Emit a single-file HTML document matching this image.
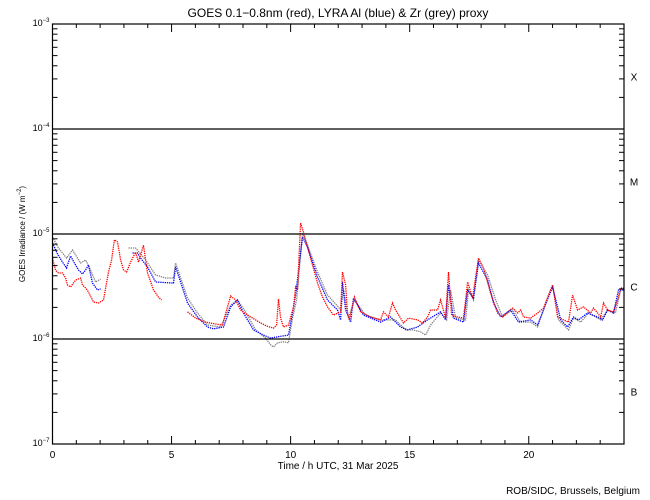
<!DOCTYPE html>
<html><head><meta charset="utf-8"><style>
body{margin:0;background:#fff}
svg{display:block;font-family:"Liberation Sans",sans-serif}
</style></head><body>
<svg id="c" width="650" height="500" viewBox="0 0 650 500">
<rect width="650" height="500" fill="#fff"/>
<g id="series"></g>
<g id="axes"></g>
</svg>
<script>
const hoursRed=[0,.13,.25,.42,.55,.63,.76,.97,1.18,1.26,1.39,1.51,1.72,1.93,2.14,2.35,2.48,2.6,2.73,2.86,2.98,3.11,3.28,3.49,3.61,3.82,3.99,4.24,4.45,4.58,null,5.67,6.01,6.43,6.85,7.14,7.31,7.48,7.69,7.9,8.19,8.53,8.74,8.99,9.28,9.41,9.49,9.58,9.7,9.91,10.12,10.21,10.29,10.42,10.54,10.71,10.92,11.13,11.34,11.55,11.8,12.1,12.18,12.31,12.39,12.47,12.68,12.94,13.36,13.78,13.9,14.11,14.28,14.41,14.74,14.95,15.33,15.54,15.75,15.88,16.17,16.3,16.51,16.63,16.76,17.01,17.26,17.35,17.43,17.64,17.77,17.89,18.1,18.4,18.69,18.9,19.11,19.32,19.53,19.66,19.78,20.08,20.37,20.62,20.83,21.0,21.21,21.46,21.67,21.84,22.05,22.3,22.6,22.72,22.89,23.02,23.14,23.31,23.56,23.73,23.86,23.98];
const fluxRed=[5.9,4.5,4.25,4.25,3.8,3.27,3.13,3.65,3.8,3.27,3.06,2.8,2.25,2.2,2.35,4.35,5.65,8.8,8.4,5.65,4.55,4.35,5.4,6.7,5.4,7.8,4.25,2.93,2.5,2.35,null,1.81,1.58,1.45,1.39,1.36,1.89,2.57,2.35,1.89,1.69,1.52,1.42,1.33,1.27,1.36,2.4,1.58,1.3,1.36,2.02,3.13,2.93,12.7,10.4,7.5,5.07,3.41,2.51,2.02,1.69,1.81,4.35,3.27,1.77,1.52,2.51,1.81,1.62,1.52,1.81,1.62,2.2,1.89,1.42,1.58,1.52,1.42,1.62,1.89,1.89,2.35,1.58,4.35,1.69,1.62,1.58,2.35,3.49,2.46,3.89,5.9,4.74,2.74,1.77,1.62,1.81,1.97,1.77,1.89,1.62,1.58,1.77,1.97,2.62,3.27,1.62,1.52,1.45,2.62,1.89,2.02,1.77,1.97,1.77,1.62,2.2,1.89,1.81,2.35,3.06,3.06];
const hoursBlue=[0,.21,.42,.59,.76,.92,1.09,1.26,1.39,1.51,1.68,1.89,2.02,null,3.36,3.57,3.7,3.99,4.33,5.08,5.17,5.67,6.09,6.51,6.76,7.18,7.48,7.77,8.02,8.44,8.86,9.16,9.45,9.91,10.08,10.21,10.5,10.71,11.13,11.55,11.97,12.1,12.18,12.31,12.52,12.64,13.06,13.78,14.2,14.62,14.91,15.33,15.75,16.3,16.51,16.63,16.84,17.26,17.43,17.68,17.89,18.27,18.52,18.82,19.24,19.57,20.08,20.37,20.83,21.0,21.34,21.63,21.88,22.09,22.47,22.89,23.1,23.31,23.56,23.77,23.98];
const fluxBlue=[8.2,6.45,5.4,4.74,6.17,5.29,4.54,4.16,4.54,5.07,3.41,2.93,3.0,null,6.59,6.59,5.9,4.85,3.49,3.41,4.85,2.2,1.62,1.3,1.25,1.3,2.02,2.35,1.77,1.22,1.09,1.02,1.05,1.09,1.77,2.62,9.36,7.52,3.89,2.35,1.89,1.52,3.49,1.89,1.45,2.46,1.69,1.45,1.62,1.3,1.22,1.3,1.52,1.81,1.52,3.27,1.58,1.45,2.93,2.46,5.29,3.65,2.2,1.62,1.89,1.45,1.52,1.36,2.51,3.13,1.52,1.3,1.62,1.52,1.77,1.62,1.52,1.89,1.77,2.93,2.93];
const hoursGrey=[0,.25,.59,.84,1.18,1.39,1.6,1.81,2.02,null,3.19,3.49,3.91,4.33,4.75,5.08,5.17,5.67,6.09,6.51,7.06,7.48,7.77,8.11,8.53,8.95,9.16,9.28,9.45,9.7,9.91,10.08,10.25,10.5,10.71,11.13,11.55,11.97,12.1,12.22,12.43,12.68,13.15,13.78,14.41,14.83,15.12,15.46,15.67,15.88,16.3,16.55,16.72,16.93,17.35,17.47,17.68,17.89,18.27,18.61,18.9,19.32,19.66,20.08,20.37,20.83,21.0,21.25,21.67,21.88,22.18,22.51,23.02,23.31,23.64,23.86,23.98];
const fluxGrey=[9.36,7.36,5.9,7.04,5.29,5.65,4.54,3.49,3.73,null,7.36,7.36,5.65,4.07,3.81,3.81,5.29,2.46,1.77,1.36,1.3,2.1,2.35,1.81,1.22,1.02,.88,.84,.92,.94,.92,1.58,2.35,10.2,7.85,4.35,2.62,2.06,1.89,2.93,1.58,2.35,1.69,1.52,1.52,1.22,1.22,1.17,1.09,1.36,1.77,1.52,2.93,1.58,1.52,2.93,2.35,5.65,4.07,2.35,1.62,1.89,1.45,1.45,1.3,2.62,3.27,1.52,1.22,1.58,1.45,1.77,1.52,1.89,1.77,2.93,3.06];
const xTickLabels=["0","5","10","15","20"];
const yDecades=[-3,-4,-5,-6,-7];
const classLabels=["X","M","C","B"];

const NS="http://www.w3.org/2000/svg";
const L=52.5,R=624,T=24,B=444;
const X=h=>L+(R-L)*h/24;
const Y=f=>{const lg=Math.log10(f*1e-6);return T+(-3-lg)*(B-T)/4;};
const sg=document.getElementById('series'),ax=document.getElementById('axes');
function mk(tag,attrs,parent){const e=document.createElementNS(NS,tag);for(const k in attrs)e.setAttribute(k,attrs[k]);parent.appendChild(e);return e;}

function drawSeries(hs,fs,col,name){
  let d="",start=true;
  for(let i=0;i<hs.length;i++){
    if(hs[i]===null||fs[i]===null){start=true;continue;}
    d+=(start?"M":"L")+X(hs[i]).toFixed(1)+","+Y(fs[i]).toFixed(1);start=false;
  }
  const p=mk('path',{d:d,fill:'none',stroke:col,'stroke-width':1.3,'stroke-dasharray':'1.3 0.9'},sg);
  
  
}
drawSeries(hoursGrey,fluxGrey,'#808080','zr-proxy-series');
drawSeries(hoursBlue,fluxBlue,'#0000ff','lyra-al-series');
drawSeries(hoursRed,fluxRed,'#ff0000','goes-series');

const fr=mk('rect',{x:L,y:T,width:R-L,height:B-T,fill:'none',stroke:'#000','stroke-width':1.2},ax);


yDecades.forEach((e,i)=>{
  const y=T+i*(B-T)/4;
  if(i>0&&i<4){const g=mk('line',{x1:L,x2:R,y1:y,y2:y,stroke:'#000','stroke-width':1.2},ax);
    
    }
  const t=mk('text',{x:L-3,y:y+2,'font-size':9,'text-anchor':'end'},ax);
  
  
  t.textContent="10";
  const s=mk('tspan',{dy:-4,'font-size':6},t);s.textContent=String(e).replace('-','\u2212');
  if(i<4){for(let m=2;m<=9;m++){
    const yy=y+(B-T)/4*(1-Math.log10(m));
    mk('line',{x1:L,x2:L+5,y1:yy,y2:yy,stroke:'#000'},ax);
    mk('line',{x1:R-5,x2:R,y1:yy,y2:yy,stroke:'#000'},ax);
  }}
});
classLabels.forEach((c,i)=>{
  const t=mk('text',{x:634,y:T+(i+0.5)*(B-T)/4+4,'font-size':10,'text-anchor':'middle'},ax);
  
  
  t.textContent=c;
});
for(let h=0;h<=24;h++){
  const x=X(h),len=h%5===0?8:4;
  mk('line',{x1:x,x2:x,y1:B,y2:B-len,stroke:'#000'},ax);
  mk('line',{x1:x,x2:x,y1:T,y2:T+len,stroke:'#000'},ax);
}
xTickLabels.forEach(s=>{
  const t=mk('text',{x:X(+s),y:458,'font-size':10,'text-anchor':'middle'},ax);
  
  
  t.textContent=s;
});
</script>
<div style="position:absolute;left:0;top:0;width:650px;height:500px;pointer-events:none;font-family:'Liberation Sans',sans-serif">
<div style="position:absolute;left:0;width:676px;top:6px;text-align:center;font-size:12px">GOES 0.1−0.8nm (red), LYRA Al (blue) &amp; Zr (grey) proxy</div>
<div style="position:absolute;left:200px;width:276px;top:461px;text-align:center;font-size:10px">Time / h UTC, 31 Mar 2025</div>
<div style="position:absolute;right:10px;top:486px;font-size:10px">ROB/SIDC, Brussels, Belgium</div>
<div style="position:absolute;left:22px;top:234px;font-size:8px;white-space:nowrap;transform:translate(-50%,-50%) rotate(-90deg)">GOES Irradiance / (W m<sup style="font-size:6px">−2</sup>)</div>
</div>
</body></html>
